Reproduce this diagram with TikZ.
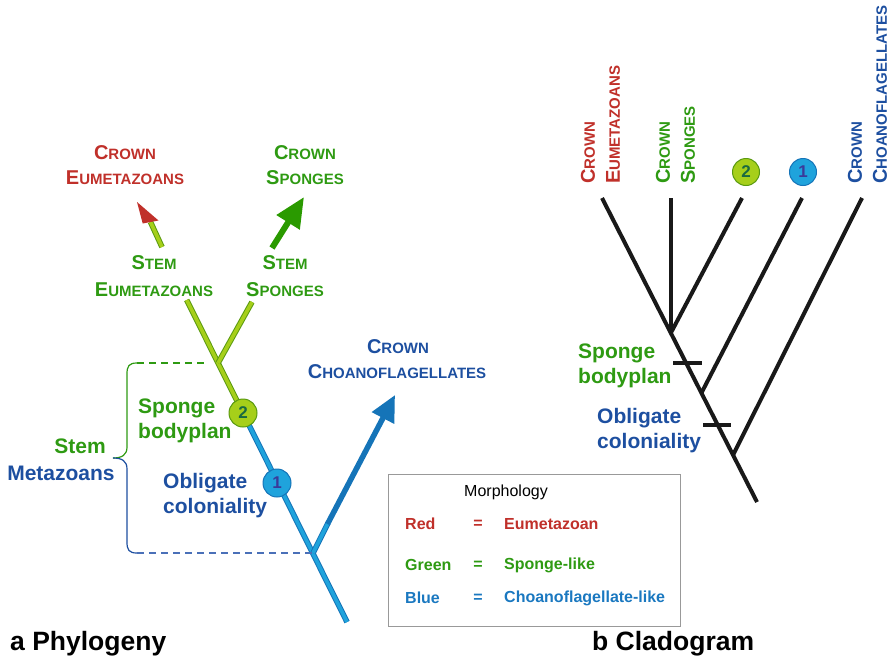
\documentclass[tikz,border=0pt]{standalone}
\usepackage{fontspec}
\setmainfont{Liberation Sans}
\usetikzlibrary{arrows.meta}
\definecolor{cred}{HTML}{C0302A}
\definecolor{cgreen}{HTML}{2E9A12}
\definecolor{cblue}{HTML}{1D4FA0}
\definecolor{lblue}{HTML}{1FA3DC}
\definecolor{dblue}{HTML}{1574B8}
\definecolor{lgreen}{HTML}{A6CF1A}
\definecolor{dgreen}{HTML}{5A9A10}
\definecolor{agreen}{HTML}{2A9A00}
\definecolor{legblue}{HTML}{1A78C0}
\definecolor{numtwo}{HTML}{1A6A40}
\definecolor{numone}{HTML}{3A3A9A}
\definecolor{dashblue}{HTML}{4A70B8}
\newcommand\mysc[2]{{\fontsize{20}{24}\selectfont #1}{\fontsize{15}{18}\selectfont #2}}
\tikzset{
  bbr/.style={draw=dblue, double=lblue, double distance=3.6pt, line width=1pt},
  gbr/.style={draw=dgreen, double=lgreen, double distance=3.6pt, line width=1pt},
  lab/.style={inner sep=0pt, font=\bfseries\fontsize{21}{25}\selectfont},
  sclab/.style={inner sep=0pt, font=\bfseries},
  legt/.style={inner sep=0pt, font=\bfseries\fontsize{16}{19}\selectfont},
  circtwo/.style={circle, draw=dgreen, fill=lgreen, line width=1pt, inner sep=0pt, minimum size=28pt, text=numtwo, font=\bfseries\fontsize{17}{17}\selectfont},
  circone/.style={circle, draw=dblue, fill=lblue, line width=1pt, inner sep=0pt, minimum size=28pt, text=numone, font=\bfseries\fontsize{17}{17}\selectfont},
  clad/.style={draw=black!90, line width=4pt},
  dashln/.style={line width=1.4pt, dash pattern=on 7pt off 5pt},
}
\begin{document}
\begin{tikzpicture}[x=1pt,y=-1pt]
\useasboundingbox (0,0) rectangle (890,659);

% ---------- Phylogeny ----------
\coordinate (root) at (347,622);
\coordinate (jc) at (313,553);
\coordinate (jg) at (218.1,363);
\coordinate (ltop) at (186.7,300);
\coordinate (rtop) at (252,302);
\coordinate (mid) at (328,523);
\coordinate (ctip) at (395,395);
\coordinate (eab) at (162,247);
\coordinate (eam) at (150.5,222);
\coordinate (sab) at (272,248);
\coordinate (stip) at (304,197);

\draw[bbr] (root) -- (243,413);
\draw[gbr] (243,413) -- (ltop);
\draw[gbr] (jg) -- (rtop);
\draw[bbr] (jc) -- (mid);
\draw[dblue, line width=5.5pt, -{Triangle[length=26pt,width=24pt]}] (327.5,524) -- (ctip);
\draw[gbr] (eab) -- (eam);
\fill[cred] (137,202) -- (142.7,223.5) -- (158.5,220.5) -- cycle;
\draw[agreen, line width=6pt, -{Triangle[length=30pt,width=26pt]}] (sab) -- (stip);

\node[circtwo] (c2) at (243,413) {2};
\node[circone] (c1) at (277,483) {1};

% brace
\draw[cgreen, dashln] (137,363) -- (205,363);
\draw[cgreen, line width=1.2pt] (137,363) .. controls (129,363) and (127,366) .. (127,374) -- (127,447) .. controls (127,455) and (122,458) .. (113,458);
\draw[cblue, line width=1.2pt] (113,458) .. controls (122,458) and (127,461) .. (127,469) -- (127,542) .. controls (127,550) and (129,553) .. (137,553);
\draw[dashblue, dashln] (137,553) -- (jc);

% labels
\node[sclab, text=cred] (cel1) at (125,153) {\mysc{C}{ROWN}};
\node[sclab, text=cred] (cel2) at (125,178) {\mysc{E}{UMETAZOANS}};
\node[sclab, text=cgreen] (csl1) at (305,153) {\mysc{C}{ROWN}};
\node[sclab, text=cgreen] (csl2) at (305,178) {\mysc{S}{PONGES}};
\node[sclab, text=cgreen] (sel1) at (154,263) {\mysc{S}{TEM}};
\node[sclab, text=cgreen] (sel2) at (154,290) {\mysc{E}{UMETAZOANS}};
\node[sclab, text=cgreen] (ssl1) at (285,263) {\mysc{S}{TEM}};
\node[sclab, text=cgreen] (ssl2) at (285,290) {\mysc{S}{PONGES}};
\node[sclab, text=cblue] (ccl1) at (398,347) {\mysc{C}{ROWN}};
\node[sclab, text=cblue] (ccl2) at (397,372) {\mysc{C}{HOANOFLAGELLATES}};

\node[lab, text=cgreen] (stm) at (80,446) {Stem};
\node[lab, text=cblue] (mtz) at (61,473) {Metazoans};
\node[lab, text=cgreen, anchor=west] (sp1) at (138,408) {Sponge};
\node[lab, text=cgreen, anchor=west] (sp2) at (138,433) {bodyplan};
\node[lab, text=cblue, anchor=west] (ob1) at (163,483) {Obligate};
\node[lab, text=cblue, anchor=west] (ob2) at (163,508) {coloniality};

% legend
\node[draw=black!40, line width=1.2pt, minimum width=292pt, minimum height=152pt, anchor=north west, inner sep=0pt] (leg) at (388,474) {};
\node[inner sep=0pt, font=\fontsize{16}{19}\selectfont] (morph) at (506,492) {Morphology};
\node[legt, text=cred, anchor=west] (lr1) at (405,524) {Red};
\node[legt, text=cred] (lr2) at (478,524) {=};
\node[legt, text=cred, anchor=west] (lr3) at (504,524) {Eumetazoan};
\node[legt, text=cgreen, anchor=west] (lg1) at (405,565) {Green};
\node[legt, text=cgreen] (lg2) at (478,565) {=};
\node[legt, text=cgreen, anchor=west] (lg3) at (504,565) {Sponge-like};
\node[legt, text=legblue, anchor=west] (lb1) at (405,598) {Blue};
\node[legt, text=legblue] (lb2) at (478,598) {=};
\node[legt, text=legblue, anchor=west] (lb3) at (504,598) {Choanoflagellate-like};

% ---------- Cladogram ----------
\coordinate (kr) at (757,502);
\coordinate (ka) at (733,455);
\coordinate (kb) at (701.4,393);
\coordinate (kc) at (670.8,333);
\coordinate (t1) at (602,198);
\coordinate (t2) at (670.8,198);
\coordinate (t3) at (742,198);
\coordinate (t4) at (802,198);
\coordinate (t5) at (862,198);
\draw[clad] (kr) -- (t1);
\draw[clad] (kc) -- (t2);
\draw[clad] (kc) -- (t3);
\draw[clad] (kb) -- (t4);
\draw[clad] (ka) -- (t5);
\draw[clad] (673,363) -- (702,363);
\draw[clad] (703,425) -- (731,425);

\node[lab, text=cgreen, anchor=west] (ksp1) at (578,353) {Sponge};
\node[lab, text=cgreen, anchor=west] (ksp2) at (578,378) {bodyplan};
\node[lab, text=cblue, anchor=west] (kob1) at (597,418) {Obligate};
\node[lab, text=cblue, anchor=west] (kob2) at (597,443) {coloniality};

\node[sclab, text=cred, rotate=90, anchor=west] (kl1) at (588,184) {\mysc{C}{ROWN}};
\node[sclab, text=cred, rotate=90, anchor=west] (kl2) at (613,184) {\mysc{E}{UMETAZOANS}};
\node[sclab, text=cgreen, rotate=90, anchor=west] (kl3) at (663,184) {\mysc{C}{ROWN}};
\node[sclab, text=cgreen, rotate=90, anchor=west] (kl4) at (688,184) {\mysc{S}{PONGES}};
\node[circtwo, minimum size=27pt] (kc2) at (746,172) {2};
\node[circone, minimum size=27pt] (kc1) at (803,172) {1};
\node[sclab, text=cblue, rotate=90, anchor=west] (kl5) at (855,184) {\mysc{C}{ROWN}};
\node[sclab, text=cblue, rotate=90, anchor=west] (kl6) at (880,184) {\mysc{C}{HOANOFLAGELLATES}};

% panel labels
\node[inner sep=0pt, anchor=west, font=\bfseries\fontsize{26.5}{31}\selectfont] (pa) at (10,644) {a Phylogeny};
\node[inner sep=0pt, anchor=west, font=\bfseries\fontsize{26.5}{31}\selectfont] (pb) at (592,644) {b Cladogram};
\end{tikzpicture}
\end{document}
